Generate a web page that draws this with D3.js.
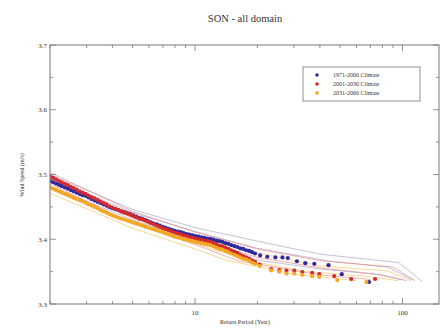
<!DOCTYPE html>
<html>
<head>
<meta charset="utf-8">
<script src="https://cdn.jsdelivr.net/npm/d3@7"></script>
<style>
  html, body { margin: 0; padding: 0; background: #fff; }
  svg text { font-family: "Liberation Serif", "Times New Roman", "DejaVu Serif", serif; fill: #333; }
</style>
</head>
<body>
<svg id="chart" width="441" height="332"></svg>
<script>
// Return-period estimates (years) and wind speed return levels (m/s)
const seriesNames = ["1971-2000 Climate", "2001-2030 Climate", "2031-2060 Climate"];
const seriesColors = ["#2e2a9e", "#d42a2e", "#f5a623"];
const bandColors = ["#a8a8cc", "#ee8a86", "#f7c66a"];

const periodsBase = [2.00, 2.07, 2.14, 2.21, 2.28, 2.36, 2.44, 2.52, 2.60, 2.69, 2.78, 2.87, 2.97, 3.07,
  3.17, 3.28, 3.39, 3.50, 3.62, 3.74, 3.86, 3.99, 4.13, 4.27, 4.41, 4.56, 4.71, 4.87, 5.03, 5.20, 5.37,
  5.55, 5.74, 5.93, 6.13, 6.34, 6.55, 6.77, 7.00, 7.23, 7.47, 7.72, 7.98, 8.25, 8.53, 8.81, 9.11, 9.41,
  9.73, 10.06, 10.40, 10.75, 11.11, 11.48, 11.87, 12.27, 12.68, 13.10, 13.54, 14.00, 14.47, 14.95,
  15.46, 15.98, 16.51, 17.07, 17.64, 18.23, 18.84, 19.47];

const periods1971 = periodsBase.concat([20.6, 22.3, 24.4, 26.4, 28.0, 31.0, 34.0, 37.6, 44.0, 51.0, 69.0]);
const values1971 = [3.490, 3.488, 3.486, 3.484, 3.482, 3.480, 3.478, 3.476, 3.474, 3.472, 3.470, 3.468,
  3.467, 3.4645, 3.462, 3.460, 3.458, 3.456, 3.454, 3.452, 3.450, 3.448, 3.4465, 3.445, 3.443, 3.442,
  3.440, 3.439, 3.437, 3.435, 3.433, 3.432, 3.430, 3.428, 3.426, 3.424, 3.423, 3.421, 3.419, 3.4175,
  3.416, 3.4145, 3.413, 3.412, 3.411, 3.4095, 3.408, 3.407, 3.406, 3.405, 3.404, 3.403, 3.402, 3.401,
  3.4005, 3.3995, 3.398, 3.397, 3.396, 3.394, 3.393, 3.391, 3.3895, 3.388, 3.386, 3.385, 3.383, 3.382,
  3.380, 3.378,
  3.375, 3.373, 3.372, 3.372, 3.371, 3.366, 3.363, 3.362, 3.360, 3.346, 3.334];

const periods2001 = periodsBase.concat([20.5, 23.3, 25.5, 27.6, 30.1, 32.9, 36.7, 39.7, 46.9, 56.6, 73.8]);
const values2001 = [3.497, 3.4947, 3.4925, 3.490, 3.488, 3.4857, 3.4835, 3.481, 3.479, 3.4765, 3.474,
  3.472, 3.470, 3.4675, 3.465, 3.463, 3.461, 3.458, 3.456, 3.454, 3.451, 3.449, 3.447, 3.445, 3.443,
  3.441, 3.440, 3.438, 3.436, 3.434, 3.432, 3.431, 3.429, 3.427, 3.425, 3.423, 3.421, 3.419, 3.417,
  3.4155, 3.4138, 3.412, 3.410, 3.409, 3.4075, 3.406, 3.405, 3.4035, 3.402, 3.401, 3.400, 3.399, 3.398,
  3.397, 3.396, 3.394, 3.392, 3.390, 3.389, 3.387, 3.385, 3.383, 3.381, 3.379, 3.376, 3.374, 3.372,
  3.370, 3.367, 3.365,
  3.361, 3.354, 3.3525, 3.3514, 3.3514, 3.3494, 3.348, 3.3463, 3.3432, 3.3386, 3.3386];

const periods2031 = periodsBase.concat([20.5, 23.3, 25.5, 27.6, 30.1, 32.9, 36.7, 39.7, 48.5, 67.0]);
const values2031 = [3.480, 3.478, 3.476, 3.474, 3.472, 3.470, 3.468, 3.466, 3.464, 3.462, 3.4605, 3.4585,
  3.4565, 3.454, 3.452, 3.450, 3.448, 3.445, 3.443, 3.441, 3.439, 3.437, 3.435, 3.4335, 3.432, 3.4305,
  3.429, 3.4275, 3.426, 3.4245, 3.423, 3.4215, 3.420, 3.4185, 3.417, 3.4155, 3.414, 3.4125, 3.411,
  3.409, 3.4075, 3.406, 3.404, 3.403, 3.402, 3.4005, 3.3995, 3.398, 3.397, 3.396, 3.395, 3.394, 3.393,
  3.392, 3.391, 3.389, 3.387, 3.385, 3.384, 3.382, 3.380, 3.378, 3.376, 3.374, 3.372, 3.370, 3.369,
  3.367, 3.364, 3.362,
  3.359, 3.352, 3.350, 3.347, 3.347, 3.345, 3.343, 3.342, 3.337, 3.334];

// Confidence bounds for each climate: [period, level] pairs
const bounds1971 = [
  [[2, 3.500], [5, 3.446], [10, 3.418], [20, 3.397], [40, 3.377], [96, 3.364], [125, 3.334]],
  [[2, 3.494], [5, 3.441], [10, 3.412], [20, 3.386], [45, 3.366], [85, 3.357], [112, 3.337]],
  [[2, 3.482], [5, 3.430], [10, 3.399], [20, 3.368], [40, 3.354], [80, 3.345], [105, 3.336]]
];
const bounds2001 = [
  [[2, 3.503], [5, 3.443], [10, 3.411], [20, 3.385], [40, 3.367], [90, 3.357], [115, 3.336]],
  [[2, 3.492], [5, 3.433], [10, 3.401], [20, 3.372], [40, 3.356], [75, 3.346], [100, 3.337]],
  [[2, 3.486], [5, 3.424], [10, 3.392], [16, 3.367], [40, 3.345], [70, 3.338]]
];
const bounds2031 = [
  [[2, 3.489], [5, 3.434], [10, 3.404], [20, 3.379], [40, 3.359], [85, 3.351], [110, 3.336]],
  [[2, 3.478], [5, 3.424], [10, 3.393], [20, 3.364], [35, 3.350], [70, 3.342], [95, 3.336]],
  [[2, 3.471], [5, 3.417], [10, 3.385], [14, 3.368], [30, 3.346], [60, 3.336]]
];

const yTicks = [3.3, 3.4, 3.5, 3.6, 3.7];
const xTickLabels = [10, 100];

const series = [
  { name: seriesNames[0], color: seriesColors[0], band: bandColors[0], T: periods1971, v: values1971, bounds: bounds1971 },
  { name: seriesNames[1], color: seriesColors[1], band: bandColors[1], T: periods2001, v: values2001, bounds: bounds2001 },
  { name: seriesNames[2], color: seriesColors[2], band: bandColors[2], T: periods2031, v: values2031, bounds: bounds2031 }
];

const svg = d3.select("#chart");
const pLeft = 50, pRight = 439, pTop = 45, pBottom = 304;

const x = d3.scaleLog().domain([2, 150]).range([pLeft, pRight]);
const y = d3.scaleLinear().domain([3.3, 3.7]).range([pBottom, pTop]);

// Title
svg.append("text").attr("x", 245).attr("y", 22).attr("text-anchor", "middle")
  .attr("font-size", 10.5).text("SON - all domain");

// Confidence bound lines
const line = d3.line().x(d => x(d[0])).y(d => y(d[1]));
const plot = svg.append("g");
plot.append("defs").append("clipPath").attr("id", "clip")
  .append("rect").attr("x", pLeft).attr("y", pTop).attr("width", pRight - pLeft).attr("height", pBottom - pTop);
const inner = plot.append("g").attr("clip-path", "url(#clip)");

series.forEach(s => {
  s.bounds.forEach(b => {
    inner.append("path").attr("d", line(b)).attr("fill", "none")
      .attr("stroke", s.band).attr("stroke-width", 0.7);
  });
});

// Return level points, in legend order
series.forEach(s => {
  inner.append("g").selectAll("circle").data(s.T.map((t, i) => [t, s.v[i]]))
    .join("circle")
    .attr("cx", d => x(d[0])).attr("cy", d => y(d[1])).attr("r", 2.1)
    .attr("fill", s.color);
});

// Frame
svg.append("rect").attr("x", pLeft).attr("y", pTop).attr("width", pRight - pLeft).attr("height", pBottom - pTop)
  .attr("fill", "none").attr("stroke", "#777").attr("stroke-width", 1);

// Ticks (inward, mirrored on opposite sides)
const axisG = svg.append("g").attr("stroke", "#777").attr("stroke-width", 0.8);
const xMinor = [];
[1, 10, 100].forEach(dec => { for (let k = 1; k <= 9; k++) { const t = dec * k; if (t >= 2 && t <= 150) xMinor.push(t); } });
xMinor.forEach(t => {
  const major = xTickLabels.includes(t);
  const len = major ? 6 : 3;
  axisG.append("line").attr("x1", x(t)).attr("x2", x(t)).attr("y1", pBottom).attr("y2", pBottom - len);
  axisG.append("line").attr("x1", x(t)).attr("x2", x(t)).attr("y1", pTop).attr("y2", pTop + len);
});
d3.range(3.3, 3.7001, 0.05).forEach(v => {
  const major = yTicks.some(t => Math.abs(t - v) < 1e-6);
  const len = major ? 6 : 3;
  axisG.append("line").attr("x1", pLeft).attr("x2", pLeft + len).attr("y1", y(v)).attr("y2", y(v));
  axisG.append("line").attr("x1", pRight).attr("x2", pRight - len).attr("y1", y(v)).attr("y2", y(v));
});

// Tick labels
yTicks.forEach(v => {
  svg.append("text").attr("x", pLeft - 3).attr("y", y(v) + 2.5).attr("text-anchor", "end")
    .attr("font-size", 7).text(v.toFixed(1));
});
xTickLabels.forEach(t => {
  svg.append("text").attr("x", x(t)).attr("y", pBottom + 11).attr("text-anchor", "middle")
    .attr("font-size", 7).text(t);
});

// Axis titles
svg.append("text").attr("x", 245).attr("y", 324).attr("text-anchor", "middle")
  .attr("font-size", 6).text("Return Period (Year)");
svg.append("text").attr("transform", "translate(24,175) rotate(-90)").attr("text-anchor", "middle")
  .attr("font-size", 6).text("Wind Speed (m/s)");

// Legend
const lg = svg.append("g");
lg.append("rect").attr("x", 303).attr("y", 67).attr("width", 117).attr("height", 34)
  .attr("fill", "#fff").attr("stroke", "#777").attr("stroke-width", 0.8);
series.forEach((s, i) => {
  const ly = 75 + i * 9;
  lg.append("circle").attr("cx", 317).attr("cy", ly).attr("r", 1.8).attr("fill", s.color);
  lg.append("text").attr("x", 333).attr("y", ly + 2).attr("font-size", 6).text(s.name);
});
</script>
</body>
</html>
